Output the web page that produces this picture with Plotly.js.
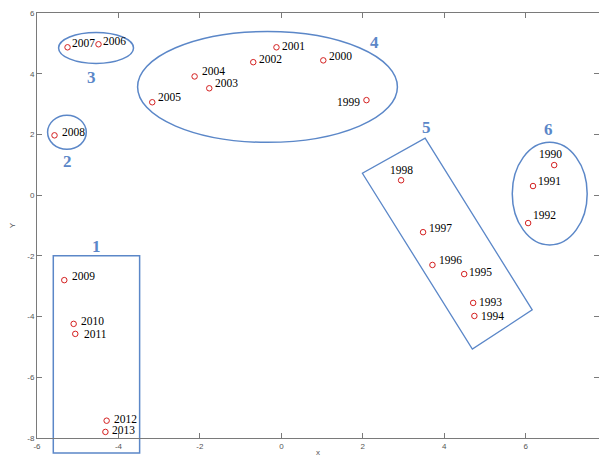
<!DOCTYPE html>
<html><head><meta charset="utf-8">
<script src="https://cdn.plot.ly/plotly-3.0.1.min.js"></script>
<style>html,body{margin:0;padding:0;background:#fff}</style>
</head><body><div id="chart" style="width:599px;height:457px"></div>
<script>
// ---- data ----
const years = ['1990','1991','1992','1993','1994','1995','1996','1997','1998','1999','2000','2001','2002','2003','2004','2005','2006','2007','2008','2009','2010','2011','2012','2013'];
const xVals = [6.70, 6.18, 6.06, 4.71, 4.74, 4.49, 3.71, 3.48, 2.94, 2.09, 1.03, -0.12, -0.69, -1.77, -2.13, -3.17, -4.49, -5.25, -5.57, -5.33, -5.10, -5.06, -4.29, -4.32];
const yVals = [0.99, 0.30, -0.92, -3.55, -3.98, -2.60, -2.30, -1.22, 0.49, 3.13, 4.44, 4.87, 4.38, 3.52, 3.91, 3.06, 4.97, 4.87, 1.97, -2.80, -4.24, -4.57, -7.43, -7.80];

const groupNames = ['1','2','3','4','5','6'];
const groupLabelX = [-4.54, -5.25, -4.66, 2.28, 3.56, 6.55];
const groupLabelY = [-1.68, 1.12, 3.88, 5.03, 2.24, 2.17];

// ellipses (groups 2,3,4,6): bounds in data units
const ellX0 = [-5.74, -5.47, -3.53, 5.67];
const ellX1 = [-4.79, -3.63, 2.85, 7.51];
const ellY0 = [1.51, 4.34, 1.74, -1.64];
const ellY1 = [2.63, 5.36, 5.39, 1.74];

// group 1 rectangle (data units)
const rect1X = [-5.60, -3.48];
const rect1Y = [-8.49, -2.00];

// group 5 rotated rectangle corners (data units)
const rect5X = [3.53, 6.16, 4.69, 1.99];
const rect5Y = [1.88, -3.78, -5.07, 0.72];

const xTicks = [-6, -4, -2, 0, 2, 4, 6];
const yTicks = [-8, -6, -4, -2, 0, 2, 4, 6];

// ---- styling (label offsets in pixels) ----
const xRange = [-6, 7.8];
const yRange = [-8, 6];
const labelAnchor = ['center','left','left','left','left','left','left','left','center','right','left','left','left','left','left','left','left','left','left','left','left','left','left','left'];
const labelDX = [-4, 4, 4, 5, 6, 4, 6, 5, 0, -5, 5, 5, 5, 5, 6, 5, 4, 3, 6, 7, 6, 8, 6, 6];
const labelDY = [11, 5, 8, 1, 0, 2, 5, 4, 10, -2, 4, 1, 3, 5, 5, 5, 3, 4, 3, 4, 3, 0, 2, 2];
const blue = '#5b87c8';

const px = v => (v - xRange[0]) / (xRange[1] - xRange[0]);
const py = v => (v - yRange[0]) / (yRange[1] - yRange[0]);

const shapes = [];
for (let i = 0; i < ellX0.length; i++) {
  shapes.push({type:'circle', xref:'x', yref:'y', x0:ellX0[i], x1:ellX1[i], y0:ellY0[i], y1:ellY1[i], line:{color:blue, width:1.5}, layer:'below'});
}
shapes.push({type:'rect', xref:'paper', yref:'paper', x0:px(rect1X[0]), x1:px(rect1X[1]), y0:py(rect1Y[0]), y1:py(rect1Y[1]), line:{color:blue, width:1.5}, layer:'below'});
let path = '';
for (let i = 0; i < rect5X.length; i++) path += (i === 0 ? 'M' : 'L') + rect5X[i] + ',' + rect5Y[i] + ' ';
path += 'Z';
shapes.push({type:'path', xref:'x', yref:'y', path:path, line:{color:blue, width:1.3}, layer:'below'});

const annotations = groupNames.map((g, i) => ({
  x: groupLabelX[i], y: groupLabelY[i], xref:'x', yref:'y', text:g, showarrow:false,
  font:{family:'Liberation Serif', size:17, color:blue, weight:'bold'}
}));
years.forEach((yr, i) => {
  annotations.push({
    x: xVals[i], y: yVals[i], xref:'x', yref:'y', text: yr, showarrow:false,
    xanchor: labelAnchor[i], yanchor:'middle', xshift: labelDX[i], yshift: labelDY[i],
    borderpad:0, font:{family:'Liberation Serif', size:11.5, color:'#000'}
  });
});

const trace = {
  type:'scatter', mode:'markers', x:xVals, y:yVals, cliponaxis:false,
  marker:{symbol:'circle-open', size:5.5, color:'#d42020', line:{width:1}},
  hoverinfo:'skip'
};

const axisCommon = {
  showgrid:false, zeroline:false, showline:true, linecolor:'#7a7a7a', linewidth:1,
  ticks:'inside', ticklen:5, tickcolor:'#7a7a7a', mirror:'ticks',
  tickfont:{family:'Arial', size:8, color:'#555'}
};

const layout = {
  width:599, height:457,
  margin:{l:37, r:0, t:13, b:19},
  paper_bgcolor:'#fff', plot_bgcolor:'#fff',
  showlegend:false,
  xaxis:Object.assign({}, axisCommon, {range:xRange, tickvals:xTicks, ticktext:xTicks.map(String),
    title:{text:'x', font:{family:'Arial', size:8, color:'#555'}, standoff:2}}),
  yaxis:Object.assign({}, axisCommon, {range:yRange, tickvals:yTicks, ticktext:yTicks.map(String),
    title:{text:'Y', font:{family:'Arial', size:8, color:'#555'}, standoff:10}}),
  shapes:shapes,
  annotations:annotations
};

Plotly.newPlot('chart', [trace], layout, {displayModeBar:false, staticPlot:true});
</script>
</body></html>
